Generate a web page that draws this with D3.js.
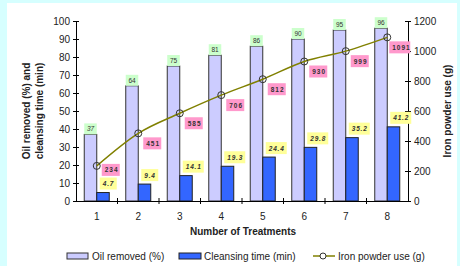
<!DOCTYPE html>
<html>
<head>
<meta charset="utf-8">
<script src="https://cdnjs.cloudflare.com/ajax/libs/d3/7.8.5/d3.min.js"></script>
<style>
  body { margin: 0; background: #d6ffff; }
  text { font-family: "Liberation Sans", Arial, sans-serif; }
</style>
</head>
<body>
<div id="chart"></div>
<script>
// data
let treatments = ["1", "2", "3", "4", "5", "6", "7", "8"];
let oilRemoved = [37, 64, 75, 81, 86, 90, 95, 96];
let cleansingTime = [4.7, 9.4, 14.1, 19.3, 24.4, 29.8, 35.2, 41.2];
let ironUse = [234, 451, 585, 706, 812, 930, 999, 1091];
let leftTicks = [0, 10, 20, 30, 40, 50, 60, 70, 80, 90, 100];
let rightTicks = [0, 200, 400, 600, 800, 1000, 1200];

let width = 460,
  height = 266;

let svg = d3
  .select("#chart")
  .append("svg")
  .attr("width", width)
  .attr("height", height);

// white panel on cyan page
svg.append("rect").attr("x", 7).attr("y", 3).attr("width", 450).attr("height", 263).attr("fill", "#fff");

let x = d3.scaleBand().domain(treatments).range([76, 408]);
let yL = d3.scaleLinear().domain([0, 100]).range([201, 21]);
let yR = d3.scaleLinear().domain([0, 1200]).range([201, 21]);
let barW = 12.5;

// bars
let g = svg.append("g");
g.selectAll(".oil")
  .data(oilRemoved)
  .join("rect")
  .attr("x", (d, i) => x(treatments[i]) + x.bandwidth() / 2 - barW)
  .attr("y", (d) => yL(d))
  .attr("width", barW)
  .attr("height", (d) => yL(0) - yL(d))
  .attr("fill", "#ccccff")
  .attr("stroke", "#333")
  .attr("stroke-width", 1);

g.selectAll(".clean")
  .data(cleansingTime)
  .join("rect")
  .attr("x", (d, i) => x(treatments[i]) + x.bandwidth() / 2)
  .attr("y", (d) => yL(d))
  .attr("width", barW)
  .attr("height", (d) => yL(0) - yL(d))
  .attr("fill", "#3366ff")
  .attr("stroke", "#222")
  .attr("stroke-width", 1);

// axes
let axL = svg.append("g").attr("transform", "translate(76,0)")
  .call(d3.axisLeft(yL).tickValues(leftTicks).tickSize(3).tickSizeOuter(0));
axL.selectAll(".tick line").attr("x2", 3).attr("x1", -3);
let axR = svg.append("g").attr("transform", "translate(408,0)")
  .call(d3.axisRight(yR).tickValues(rightTicks).tickFormat(d3.format("d")).tickSize(3).tickSizeOuter(0));
axR.selectAll(".tick line").attr("x1", -3).attr("x2", 3);
let axB = svg.append("g").attr("transform", "translate(0,201)")
  .call(d3.axisBottom(x).tickSize(0).tickSizeOuter(0).tickPadding(12));

[axL, axR, axB].forEach((a) => {
  a.select(".domain").attr("stroke", "#000");
  a.selectAll(".tick line").attr("stroke", "#000");
  a.selectAll("text").attr("font-size", 10).attr("fill", "#222")
    .attr("font-family", "Liberation Sans, Arial, sans-serif");
});
axL.selectAll("text").attr("x", -6);
axR.selectAll("text").attr("x", 6);

// tick marks between categories
svg.append("g")
  .selectAll("line")
  .data(treatments.slice(1))
  .join("line")
  .attr("x1", (d) => x(d))
  .attr("x2", (d) => x(d))
  .attr("y1", 198)
  .attr("y2", 204)
  .attr("stroke", "#000");

// iron powder line (smoothed)
let cx = (i) => x(treatments[i]) + x.bandwidth() / 2;
let line = d3.line().x((d, i) => cx(i)).y((d) => yR(d)).curve(d3.curveMonotoneX);
svg.append("path").datum(ironUse).attr("d", line)
  .attr("fill", "none").attr("stroke", "#808000").attr("stroke-width", 1.5);
svg.append("g").selectAll("circle").data(ironUse).join("circle")
  .attr("cx", (d, i) => cx(i)).attr("cy", (d) => yR(d)).attr("r", 3.5)
  .attr("fill", "none").attr("stroke", "#333").attr("stroke-width", 1);

// data labels: oil removed (green)
let oilLab = svg.append("g").selectAll("g").data(oilRemoved).join("g")
  .attr("transform", (d, i) => `translate(${cx(i) - barW},${yL(d) - 11})`);
oilLab.append("rect").attr("width", barW).attr("height", 11).attr("fill", "#ccffcc");
oilLab.append("text").attr("x", barW / 2).attr("y", 8).attr("text-anchor", "middle")
  .attr("font-size", 6.5).attr("fill", "#333")
  .attr("font-style", (d, i) => (i == 0 ? "italic" : "normal"))
  .text((d) => d);

// cleansing time (yellow)
let cleanLab = svg.append("g").selectAll("g").data(cleansingTime).join("g")
  .attr("transform", (d, i) => `translate(${cx(i) + 3},${yL(d) - 15})`);
cleanLab.append("rect").attr("width", (d) => (d < 10 ? 17 : 21)).attr("height", 12).attr("fill", "#ffff99");
cleanLab.append("text").attr("x", 3).attr("y", 8.5)
  .attr("font-size", 6.5).attr("font-weight", "bold").attr("font-style", "italic")
  .attr("letter-spacing", 0.8).attr("fill", "#333")
  .text((d) => d);

// iron powder (pink)
let ironLab = svg.append("g").selectAll("g").data(ironUse).join("g")
  .attr("transform", (d, i) => `translate(${cx(i) + (i == 7 ? 2 : 5)},${yR(d) + (i == 0 ? -2 : 4)})`);
ironLab.append("rect").attr("width", (d) => (d < 1000 ? 18 : 21)).attr("height", 12).attr("fill", "#ff99cc");
ironLab.append("text").attr("x", 3).attr("y", 8.5)
  .attr("font-size", 6.5).attr("font-weight", "bold")
  .attr("letter-spacing", 1).attr("fill", "#333")
  .text((d) => d);

// axis titles
svg.append("text").attr("transform", "translate(30,111) rotate(-90)")
  .attr("text-anchor", "middle").attr("font-size", 10).attr("font-weight", "bold").attr("fill", "#222")
  .text("Oil removed (%) and");
svg.append("text").attr("transform", "translate(43,111) rotate(-90)")
  .attr("text-anchor", "middle").attr("font-size", 10).attr("font-weight", "bold").attr("fill", "#222")
  .text("cleansing time (min)");
svg.append("text").attr("transform", "translate(451,111) rotate(-90)")
  .attr("text-anchor", "middle").attr("font-size", 10).attr("font-weight", "bold").attr("fill", "#222")
  .text("Iron powder use (g)");
svg.append("text").attr("x", 243).attr("y", 235)
  .attr("text-anchor", "middle").attr("font-size", 10).attr("font-weight", "bold").attr("fill", "#222")
  .text("Number of Treatments");

// legend
let lg = svg.append("g");
lg.append("rect").attr("x", 67).attr("y", 253).attr("width", 21).attr("height", 6)
  .attr("fill", "#ccccff").attr("stroke", "#333");
lg.append("text").attr("x", 92).attr("y", 260).attr("font-size", 10).attr("fill", "#222").text("Oil removed (%)");
lg.append("rect").attr("x", 179).attr("y", 253).attr("width", 22).attr("height", 6)
  .attr("fill", "#3366ff").attr("stroke", "#222");
lg.append("text").attr("x", 204).attr("y", 260).attr("font-size", 10).attr("fill", "#222").text("Cleansing time (min)");
lg.append("line").attr("x1", 313).attr("x2", 335).attr("y1", 256).attr("y2", 256)
  .attr("stroke", "#808000").attr("stroke-width", 1.5);
lg.append("circle").attr("cx", 323).attr("cy", 256).attr("r", 3).attr("fill", "#fff").attr("stroke", "#333");
lg.append("text").attr("x", 338).attr("y", 260).attr("font-size", 10).attr("fill", "#222").text("Iron powder use (g)");
</script>
</body>
</html>
